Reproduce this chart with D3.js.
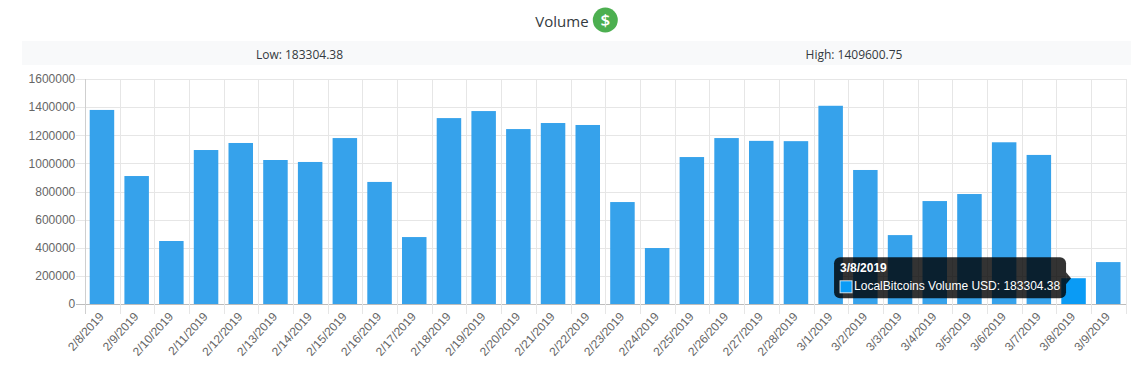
<!DOCTYPE html>
<html><head><meta charset="utf-8">
<script src="https://cdn.jsdelivr.net/npm/d3@7/dist/d3.min.js"></script>
<style>
html,body{margin:0;padding:0;background:#fff;overflow:hidden}
svg{display:block}
text{font-family:"Liberation Sans",Arial,sans-serif}
.ui{font-family:"Open Sans","Noto Sans",sans-serif}
</style></head><body><div id="c"></div>
<script>
const categories=["2/8/2019","2/9/2019","2/10/2019","2/11/2019","2/12/2019","2/13/2019","2/14/2019","2/15/2019","2/16/2019","2/17/2019","2/18/2019","2/19/2019","2/20/2019","2/21/2019","2/22/2019","2/23/2019","2/24/2019","2/25/2019","2/26/2019","2/27/2019","2/28/2019","3/1/2019","3/2/2019","3/3/2019","3/4/2019","3/5/2019","3/6/2019","3/7/2019","3/8/2019","3/9/2019"];
const volumes=[1380000,910000,448000,1095000,1145000,1024000,1010000,1180000,868000,476000,1322000,1372000,1244000,1287000,1273000,725000,398000,1045000,1180000,1160000,1158000,1409600.75,953000,490000,732000,782000,1150000,1060000,183304.38,298000];
const yTicks=[0,200000,400000,600000,800000,1000000,1200000,1400000,1600000];
const titleText="Volume";
const lowText="Low: 183304.38";
const highText="High: 1409600.75";
const activeCategory="3/8/2019";
const tooltipLabel="LocalBitcoins Volume USD: 183304.38";

const W=1131,H=366,L=85.3,R=1126.3,T=79,B=304;
const svg=d3.select("#c").append("svg").attr("width",W).attr("height",H);
const x=d3.scaleBand().domain(categories).range([L-0.7,R-0.7]).paddingInner(0.294).paddingOuter(0.147);
const xEdge=d3.scaleLinear().domain([0,categories.length]).range([L,R]);
const y=d3.scaleLinear().domain([0,1600000]).range([B,T]);

// Header
svg.append("text").attr("class","ui").attr("x",562).attr("y",27).attr("text-anchor","middle")
  .attr("font-size",15).attr("fill","#343a40").text(titleText);
const icon=svg.append("g").attr("transform","translate(605.3,20)");
icon.append("circle").attr("r",12.5).attr("fill","#4caf50");
icon.append("text").attr("class","ui").attr("text-anchor","middle").attr("y",6).attr("font-size",17).attr("font-weight",600).attr("fill","#fff").text("$");
svg.append("rect").attr("x",22).attr("y",41).attr("width",1109).attr("height",24).attr("fill","#f8f9fa");
svg.append("text").attr("class","ui").attr("x",299.5).attr("y",59).attr("text-anchor","middle").attr("font-size",12).attr("fill","#343a40").text(lowText);
svg.append("text").attr("class","ui").attr("x",854).attr("y",59).attr("text-anchor","middle").attr("font-size",12).attr("fill","#343a40").text(highText);

// Grid
const grid=svg.append("g");
yTicks.forEach(t=>{grid.append("line").attr("x1",76).attr("x2",R).attr("y1",Math.round(y(t))+.5).attr("y2",Math.round(y(t))+.5)
  .attr("stroke",t===0?"#bdbdbd":"#e6e6e6");});
d3.range(categories.length+1).forEach(i=>{const px=Math.floor(xEdge(i))+.5;
  grid.append("line").attr("x1",px).attr("x2",px).attr("y1",T).attr("y2",B+10).attr("stroke",i===0?"#cfcfcf":"#e6e6e6");});

// Bars
svg.append("g").selectAll("rect").data(categories).join("rect")
  .attr("x",d=>x(d)).attr("width",x.bandwidth())
  .attr("y",(d,i)=>y(volumes[i])).attr("height",(d,i)=>B-y(volumes[i]))
  .attr("fill",d=>d===activeCategory?"#0a9bf5":"#36a2eb");

// Axes
const gy=svg.append("g").attr("transform",`translate(${L-9},0)`)
  .call(d3.axisLeft(y).tickValues(yTicks).tickFormat(d3.format("d")).tickSize(0).tickPadding(1));
gy.select(".domain").remove();
gy.selectAll("text").attr("font-size",12).attr("fill","#666").attr("font-family","Liberation Sans, Arial, sans-serif");

const gx=svg.append("g").attr("transform",`translate(0,${B})`)
  .call(d3.axisBottom(x).tickSize(0).tickPadding(0));
gx.select(".domain").remove();
gx.selectAll(".tick text").attr("font-size",12).attr("fill","#666").attr("font-family","Liberation Sans, Arial, sans-serif")
  .attr("text-anchor","end").attr("dy",0).attr("y",0)
  .attr("transform","translate(2.5,13) rotate(-48)");

// Tooltip
const i0=categories.indexOf(activeCategory);
const tipRight=x(activeCategory)+x.bandwidth()/2-7.5;
const tipY=y(volumes[i0]);
const tip=svg.append("g");
const tw=232,th=41,tx=tipRight-tw,ty=257.3;
tip.append("rect").attr("x",tx).attr("y",ty).attr("width",tw).attr("height",th).attr("rx",6).attr("fill","#000").attr("fill-opacity",.8);
tip.append("path").attr("d",d3.line()([[tx+tw,tipY-6],[tx+tw+5,tipY],[tx+tw,tipY+6]])).attr("fill","#000").attr("fill-opacity",.8);
tip.append("text").attr("x",tx+6).attr("y",ty+15).attr("font-size",12).attr("font-weight",700).attr("fill","#fff").text(activeCategory);
tip.append("rect").attr("x",tx+6).attr("y",ty+23.5).attr("width",12).attr("height",12).attr("fill","#0a9bf5").attr("stroke","#fff").attr("stroke-opacity",.8);
tip.append("text").attr("x",tx+20).attr("y",ty+33).attr("font-size",12).attr("fill","#fff").text(tooltipLabel);
</script></body></html>
